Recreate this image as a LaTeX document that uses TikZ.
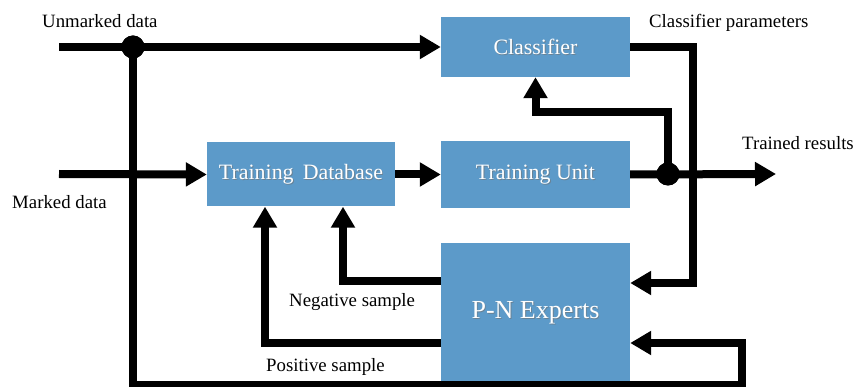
\documentclass[tikz,border=0pt]{standalone}
\usepackage{fontspec}
\setmainfont{Liberation Serif}
\usetikzlibrary{arrows.meta,calc}
\definecolor{boxblue}{RGB}{92,154,201}
\tikzset{
  block/.style={fill=boxblue, draw=none, inner sep=0pt},
  flow/.style={line width=8pt, black},
  arr/.style={flow, -{Triangle[length=21pt,width=23pt]}},
  lbl/.style={font=\fontsize{18.8}{21}\selectfont, inner sep=0pt},
  junction/.style={circle, fill=black, minimum size=23pt, inner sep=0pt},
}
% white box caption with a faint drop shadow
\newcommand{\boxtext}[3]{%
  \node[text=black!55, opacity=0.6, font=\fontsize{#3}{#3}\selectfont] at ([xshift=0.9pt,yshift=-0.9pt]#1) {#2};
  \node[text=white, font=\fontsize{#3}{#3}\selectfont] at (#1) {#2};}
\begin{document}
\begin{tikzpicture}[x=1pt,y=-1pt]
\useasboundingbox (0,0) rectangle (856,387);

% processing blocks
\node[block, minimum width=189pt, minimum height=60pt] (cl) at (535.5,47) {};
\node[block, minimum width=189pt, minimum height=67pt] (tu) at (535.5,174.5) {};
\node[block, minimum width=188pt, minimum height=64pt] (td) at (301,174.5) {};
\node[block, minimum width=189pt, minimum height=140pt] (pn) at (535.5,313) {};
\boxtext{cl}{Classifier}{21.9}
\boxtext{tu}{Training Unit}{21.9}
\boxtext{td}{Training\ \,Database}{21.9}
\boxtext{pn}{P-N Experts}{26}

% junction points and free ends
\coordinate (uin) at (59,47);
\coordinate (min) at (59,174);
\coordinate (out) at (776,174);
\node[junction] (j1) at (133,47) {};
\node[junction] (j2) at (668,174) {};
\coordinate (fbl) at (133,385);
\coordinate (fbr) at (742,385);
\coordinate (fbin) at (742,343);
\coordinate (clbend) at (668,112);
\coordinate (parm) at (693,47);
\coordinate (parin) at (693,283);
\coordinate (negout) at (441,281);
\coordinate (negx) at (343,281);
\coordinate (posout) at (441,343);
\coordinate (posx) at (265,343);

% data inputs
\draw[arr] (uin) -- (cl.west);
\draw[arr] (min) -- (td.west);
\draw[arr] (td.east) -- (tu.west);
\draw[arr] (tu.east) -- (out);

% unmarked data routed to the experts
\draw[arr] (j1.center) -- (fbl) -- (fbr) -- (fbin) -- (pn.east |- fbin);

% training unit updates the classifier
\draw[arr] (j2.center) -- (clbend) -| (cl.south);

% classifier parameters to the experts
\draw[arr] (cl.east |- parm) -- (parm) -- (parin) -- (pn.east |- parin);

% samples fed back to the database
\draw[arr] (negout) -- (negx) -- (negx |- td.south);
\draw[arr] (posout) -- (posx) -- (posx |- td.south);

% junction dots on top
\node[junction] at (j1) {};
\node[junction] at (j2) {};

% labels
\node[lbl, anchor=west] at (42,21) {Unmarked data};
\node[lbl, anchor=west] at (12,202) {Marked data};
\node[lbl, anchor=west] at (649,23) {Classifier parameters};
\node[lbl, anchor=west] at (742,143) {Trained results};
\node[lbl, anchor=west] at (289,302) {Negative sample};
\node[lbl, anchor=west] at (266,367) {Positive sample};
\end{tikzpicture}
\end{document}
